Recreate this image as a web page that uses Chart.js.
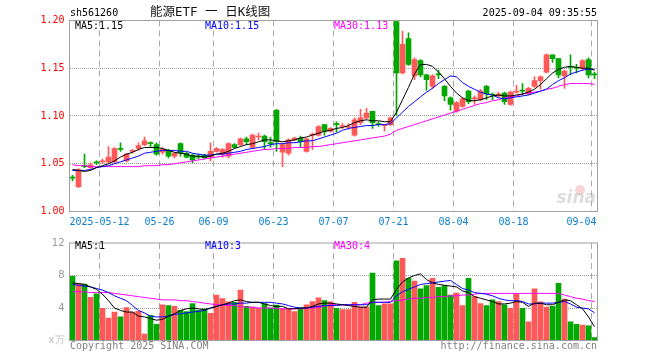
<!DOCTYPE html>
<html>
<head>
<meta charset="utf-8">
<script src="https://cdn.jsdelivr.net/npm/chart.js@4"></script>
<style>
  html, body { margin: 0; padding: 0; background: #fff; }
  #wrap { position: relative; width: 660px; height: 360px; }
  canvas { position: absolute; left: 0; }
  #k { top: 0; }
  #v { top: 232px; }
</style>
</head>
<body>
<div id="wrap">
  <canvas id="k" width="660" height="232"></canvas>
  <canvas id="v" width="660" height="128"></canvas>
</div>
<script>
// trading days shown (MM-DD, 2025)
const dates = ['04-30','05-06','05-07','05-08','05-09','05-12','05-13','05-14','05-15','05-16',
  '05-19','05-20','05-21','05-22','05-23','05-26','05-27','05-28','05-29','05-30',
  '06-03','06-04','06-05','06-06','06-09','06-10','06-11','06-12','06-13','06-16',
  '06-17','06-18','06-19','06-20','06-23','06-24','06-25','06-26','06-27','06-30',
  '07-01','07-02','07-03','07-04','07-07','07-08','07-09','07-10','07-11','07-14',
  '07-15','07-16','07-17','07-18','07-21','07-22','07-23','07-24','07-25','07-28',
  '07-29','07-30','07-31','08-01','08-04','08-05','08-06','08-07','08-08','08-11',
  '08-12','08-13','08-14','08-15','08-18','08-19','08-20','08-21','08-22','08-25',
  '08-26','08-27','08-28','08-29','09-01','09-02','09-03','09-04'];

const open = [1.036,1.026,1.048,1.046,1.052,1.052,1.052,1.052,1.066,1.053,
  1.063,1.066,1.070,1.072,1.070,1.062,1.064,1.058,1.071,1.061,
  1.059,1.058,1.059,1.057,1.063,1.060,1.058,1.070,1.070,1.076,
  1.067,1.078,1.079,1.072,1.106,1.062,1.061,1.075,1.077,1.063,
  1.080,1.080,1.091,1.084,1.092,1.089,1.088,1.080,1.093,1.098,
  1.105,1.092,1.090,1.091,1.199,1.145,1.181,1.142,1.158,1.143,
  1.131,1.144,1.131,1.119,1.105,1.110,1.126,1.118,1.117,1.131,
  1.123,1.121,1.124,1.112,1.125,1.127,1.123,1.131,1.137,1.146,
  1.164,1.160,1.142,1.152,1.151,1.150,1.159,1.144];
const high = [1.038,1.045,1.060,1.051,1.053,1.055,1.068,1.067,1.072,1.061,
  1.065,1.072,1.078,1.073,1.072,1.067,1.065,1.062,1.072,1.062,
  1.060,1.060,1.060,1.072,1.067,1.066,1.072,1.071,1.077,1.078,
  1.081,1.082,1.080,1.078,1.107,1.071,1.076,1.078,1.079,1.077,
  1.082,1.090,1.091,1.088,1.094,1.092,1.092,1.098,1.107,1.108,
  1.105,1.094,1.091,1.099,1.200,1.189,1.187,1.161,1.159,1.144,
  1.143,1.148,1.132,1.120,1.115,1.119,1.127,1.121,1.128,1.132,
  1.124,1.125,1.125,1.126,1.132,1.134,1.130,1.141,1.142,1.165,
  1.164,1.160,1.148,1.164,1.154,1.159,1.161,1.146];
const low = [1.032,1.025,1.046,1.045,1.049,1.050,1.051,1.051,1.063,1.052,
  1.061,1.064,1.069,1.068,1.059,1.060,1.056,1.056,1.058,1.056,
  1.051,1.055,1.055,1.053,1.062,1.057,1.056,1.066,1.069,1.070,
  1.066,1.075,1.065,1.067,1.063,1.047,1.059,1.074,1.068,1.062,
  1.065,1.079,1.080,1.083,1.083,1.087,1.086,1.079,1.091,1.097,
  1.087,1.089,1.084,1.090,1.100,1.144,1.153,1.138,1.141,1.127,
  1.129,1.139,1.116,1.106,1.104,1.109,1.113,1.112,1.116,1.117,
  1.117,1.120,1.112,1.111,1.124,1.122,1.122,1.130,1.128,1.145,
  1.156,1.140,1.129,1.143,1.145,1.148,1.140,1.139];
const close = [1.035,1.044,1.047,1.049,1.051,1.053,1.057,1.066,1.065,1.060,
  1.064,1.069,1.074,1.071,1.060,1.065,1.058,1.061,1.061,1.057,
  1.054,1.057,1.056,1.063,1.066,1.065,1.071,1.067,1.076,1.073,
  1.080,1.079,1.073,1.071,1.073,1.070,1.075,1.077,1.073,1.076,
  1.081,1.089,1.084,1.087,1.091,1.090,1.089,1.096,1.098,1.103,
  1.093,1.091,1.091,1.098,1.145,1.175,1.154,1.159,1.143,1.138,
  1.142,1.143,1.121,1.112,1.114,1.118,1.115,1.119,1.126,1.123,
  1.122,1.123,1.115,1.125,1.126,1.126,1.129,1.137,1.141,1.164,
  1.160,1.143,1.147,1.151,1.150,1.158,1.143,1.143];

// moving averages
const ma5 = [1.044,1.043,1.042,1.043,1.046,1.048,1.050,1.053,1.057,1.060,
  1.062,1.065,1.067,1.067,1.067,1.066,1.064,1.062,1.061,1.060,
  1.058,1.058,1.057,1.058,1.060,1.061,1.063,1.066,1.068,1.070,
  1.071,1.073,1.075,1.075,1.074,1.073,1.074,1.075,1.077,1.078,
  1.080,1.082,1.084,1.085,1.087,1.088,1.090,1.093,1.095,1.096,
  1.095,1.095,1.094,1.094,1.104,1.117,1.130,1.144,1.154,1.154,
  1.152,1.146,1.139,1.131,1.124,1.119,1.116,1.116,1.117,1.119,
  1.121,1.122,1.121,1.121,1.122,1.123,1.125,1.128,1.133,1.139,
  1.145,1.149,1.151,1.152,1.151,1.150,1.150,1.148];
const ma10 = [1.043,1.043,1.043,1.044,1.046,1.047,1.048,1.050,1.052,1.054,
  1.056,1.058,1.061,1.062,1.063,1.064,1.064,1.064,1.063,1.063,
  1.061,1.060,1.059,1.059,1.060,1.060,1.061,1.062,1.063,1.065,
  1.066,1.067,1.068,1.070,1.071,1.071,1.072,1.072,1.073,1.074,
  1.074,1.076,1.078,1.080,1.082,1.085,1.087,1.088,1.089,1.090,
  1.090,1.091,1.091,1.092,1.098,1.104,1.110,1.115,1.120,1.125,
  1.129,1.134,1.138,1.142,1.141,1.135,1.131,1.128,1.125,1.123,
  1.122,1.119,1.118,1.119,1.120,1.121,1.122,1.124,1.126,1.128,
  1.133,1.137,1.140,1.144,1.146,1.148,1.149,1.149];
const ma30 = [1.049,1.048,1.048,1.047,1.047,1.047,1.047,1.047,1.047,1.047,
  1.047,1.047,1.048,1.048,1.048,1.049,1.049,1.050,1.051,1.052,
  1.053,1.054,1.055,1.056,1.057,1.058,1.059,1.060,1.061,1.062,
  1.063,1.064,1.065,1.065,1.066,1.066,1.066,1.067,1.067,1.067,
  1.068,1.068,1.069,1.070,1.071,1.072,1.073,1.074,1.075,1.076,
  1.077,1.078,1.079,1.081,1.085,1.087,1.089,1.091,1.093,1.095,
  1.097,1.099,1.101,1.103,1.105,1.107,1.109,1.111,1.113,1.114,
  1.116,1.117,1.119,1.120,1.121,1.123,1.124,1.125,1.126,1.128,
  1.129,1.131,1.133,1.134,1.134,1.134,1.134,1.133];

// volume, in 10k
const vol = [7.9,7.0,6.95,5.3,5.75,3.95,2.75,3.5,2.9,4.05,
  3.5,3.6,0.8,3.1,2.0,4.4,4.3,4.2,3.7,3.55,
  4.55,3.7,3.9,3.35,5.6,5.15,4.75,4.7,6.2,4.2,
  4.1,4.0,4.55,4.0,4.35,3.9,3.9,3.55,4.0,4.4,
  4.8,5.25,4.9,4.75,3.95,3.8,3.8,4.7,4.1,4.1,
  8.3,4.3,4.5,4.5,9.8,10.1,7.65,7.3,6.35,6.75,
  7.65,6.55,6.75,5.6,5.85,4.3,7.65,5.4,4.55,4.3,
  5.0,4.8,4.4,3.95,5.7,3.95,2.3,6.35,4.75,4.1,
  4.2,7.05,5.1,2.3,2.0,1.9,1.8,0.35];
const vma5 = [7.1,7.0,6.9,6.6,6.3,5.7,4.9,4.0,3.7,3.5,
  3.5,3.0,2.9,2.7,2.5,2.6,3.0,3.3,3.7,3.9,
  4.0,3.9,3.8,4.0,4.2,4.4,4.6,4.9,5.0,4.8,
  4.7,4.7,4.5,4.3,4.2,4.2,3.9,3.9,4.0,4.0,
  4.2,4.5,4.6,4.6,4.5,4.4,4.3,4.2,4.1,4.1,
  5.0,5.1,5.1,5.1,6.3,7.2,7.7,8.0,8.2,7.5,
  7.1,6.9,6.8,6.7,6.6,6.1,5.9,5.4,5.2,5.0,
  4.8,4.5,4.5,4.6,4.8,4.7,4.2,4.6,4.6,4.4,
  4.4,4.7,5.0,4.9,4.4,3.9,2.9,1.7];
const vma10 = [6.9,6.8,6.7,6.6,6.4,6.2,5.9,5.5,5.2,4.9,
  4.3,3.7,3.4,3.0,2.9,2.9,3.0,3.2,3.3,3.4,
  3.5,3.6,3.7,4.0,4.2,4.4,4.5,4.5,4.6,4.6,
  4.7,4.7,4.7,4.7,4.6,4.5,4.3,4.1,4.0,4.0,
  4.1,4.2,4.3,4.3,4.3,4.4,4.4,4.4,4.4,4.4,
  4.7,4.7,4.7,4.7,5.5,6.0,6.3,6.6,6.9,7.0,
  7.1,7.2,7.3,7.4,6.9,6.4,6.2,5.9,5.8,5.7,
  5.5,5.2,5.0,4.9,4.9,4.8,4.5,4.5,4.6,4.6,
  4.6,4.7,4.8,4.5,4.1,4.0,3.9,3.4];
const vma30 = [6.0,6.0,6.0,5.9,5.9,5.9,5.9,5.8,5.7,5.6,
  5.5,5.4,5.3,5.2,5.1,5.0,5.0,5.0,4.9,4.9,
  4.8,4.7,4.6,4.5,4.4,4.4,4.3,4.3,4.2,4.1,
  4.1,4.0,4.0,4.0,3.9,3.9,3.9,3.9,3.9,4.0,
  4.0,4.1,4.2,4.4,4.4,4.4,4.4,4.4,4.4,4.6,
  4.7,4.7,4.7,4.8,4.9,5.0,5.1,5.2,5.2,5.3,
  5.3,5.4,5.4,5.5,5.5,5.6,5.6,5.7,5.8,5.8,
  5.8,5.8,5.8,5.8,5.8,5.8,5.8,5.8,5.8,5.8,
  5.8,5.8,5.6,5.4,5.2,5.1,4.9,4.8];

const tickDates = ['05-12','05-26','06-09','06-23','07-07','07-21','08-04','08-18','09-04'];
const tickText  = ['2025-05-12','05-26','06-09','06-23','07-07','07-21','08-04','08-18','09-04'];

const UP = '#ff5858', DOWN = '#00a800';
const MONO = '"DejaVu Sans Mono", monospace';
const candleColor = close.map((c, i) => c >= open[i] ? UP : DOWN);
const last = dates.length - 1;

// dashed day separators, one half-slot left of the bar centre
function vlines(chart) {
  const {ctx, chartArea: a, scales: {x}} = chart;
  ctx.save();
  ctx.strokeStyle = '#aaa';
  ctx.lineWidth = 1;
  ctx.setLineDash([6, 4]);
  tickDates.forEach(d => {
    const px = x.getPixelForValue(dates.indexOf(d)) - 3;
    ctx.beginPath();
    ctx.moveTo(px, a.top);
    ctx.lineTo(px, a.bottom);
    ctx.stroke();
  });
  ctx.restore();
}

function box(chart) {
  const {ctx, chartArea: a} = chart;
  ctx.save();
  ctx.strokeStyle = '#a0a0a0';
  ctx.lineWidth = 1;
  ctx.strokeRect(a.left, a.top, a.right - a.left, a.bottom - a.top);
  ctx.restore();
}

function txt(ctx, s, x, y, color, font, align) {
  ctx.fillStyle = color;
  ctx.font = font;
  ctx.textAlign = align || 'left';
  ctx.textBaseline = 'middle';
  ctx.fillText(s, x, y);
}

const kDecor = {
  id: 'kDecor',
  beforeDatasetsDraw(chart) {
    const ctx = chart.ctx;
    vlines(chart);
    // sina watermark
    ctx.save();
    ctx.fillStyle = 'rgba(235,120,120,0.3)';
    ctx.beginPath();
    ctx.arc(580, 190, 5, 0, Math.PI * 2);
    ctx.fill();
    txt(ctx, 'sina', 596, 199, 'rgba(180,180,180,0.45)', 'italic bold 17px "DejaVu Sans"', 'right');
    ctx.restore();
  },
  afterDraw(chart) {
    const {ctx, chartArea: a, scales: {x}} = chart;
    box(chart);
    ctx.save();
    tickDates.forEach((d, k) => {
      const px = x.getPixelForValue(dates.indexOf(d)) - 3;
      ctx.font = '10px ' + MONO;
      const w = ctx.measureText(tickText[k]).width;
      const cx = Math.min(px, a.right - 1 - w / 2);
      txt(ctx, tickText[k], cx, 222, '#0a7fd0', '10px ' + MONO, 'center');
    });
    txt(ctx, 'sh561260', 70, 13, '#000', '10px ' + MONO);
    txt(ctx, '能源ETF 一 日K线图', 150, 13, '#111', '12.5px "DejaVu Sans Mono", "Noto Sans CJK SC"');
    txt(ctx, '2025-09-04 09:35:55', 597, 13, '#000', '10px ' + MONO, 'right');
    txt(ctx, 'MA5:' + ma5[last].toFixed(2), 75, 26, '#000', '10px ' + MONO);
    txt(ctx, 'MA10:' + ma10[last].toFixed(2), 205, 26, '#0000ff', '10px ' + MONO);
    txt(ctx, 'MA30:' + ma30[last].toFixed(2), 334, 26, '#ff00ff', '10px ' + MONO);
    ctx.restore();
  }
};

const vDecor = {
  id: 'vDecor',
  beforeDatasetsDraw(chart) { vlines(chart); },
  afterDraw(chart) {
    const ctx = chart.ctx;
    box(chart);
    ctx.save();
    txt(ctx, 'MA5:' + Math.floor(vma5[last]), 75, 14, '#000', '10px ' + MONO);
    txt(ctx, 'MA10:' + Math.floor(vma10[last]), 205, 14, '#0000ff', '10px ' + MONO);
    txt(ctx, 'MA30:' + Math.floor(vma30[last]), 334, 14, '#ff00ff', '10px ' + MONO);
    txt(ctx, 'Copyright 2025 SINA.COM', 70, 114, '#808080', '10px ' + MONO);
    txt(ctx, 'http://finance.sina.com.cn', 597, 114, '#808080', '10px ' + MONO, 'right');
    ctx.restore();
  }
};

function maLine(data, color) {
  return {type: 'line', data, borderColor: color, borderWidth: 1, pointRadius: 0, tension: 0, fill: false, order: 0};
}

const common = {
  responsive: false,
  animation: false,
  devicePixelRatio: 1,
  events: [],
  plugins: {legend: {display: false}, tooltip: {enabled: false}}
};

new Chart(document.getElementById('k'), {
  type: 'bar',
  data: {
    labels: dates,
    datasets: [
      maLine(ma5, '#000000'),
      maLine(ma10, '#0000ff'),
      maLine(ma30, '#ff00ff'),
      {data: close.map((c, i) => [open[i], c]), backgroundColor: candleColor,
       barThickness: 5, minBarLength: 1, grouped: false, order: 1},
      {data: high.map((h, i) => [low[i], h]), backgroundColor: candleColor,
       barThickness: 1, grouped: false, order: 2}
    ]
  },
  options: Object.assign({}, common, {
    layout: {padding: {left: 0, right: 62.5, top: 20.5, bottom: 20.5}},
    scales: {
      x: {display: false, offset: true},
      y: {
        min: 1.0, max: 1.2,
        ticks: {stepSize: 0.05, color: '#ff0000', padding: 5,
                font: {family: MONO, size: 10}, callback: v => v.toFixed(2)},
        grid: {drawTicks: false, color: c => (c.index === 0 || c.index === 4) ? 'rgba(0,0,0,0)' : '#999'},
        border: {display: false, dash: [1, 1]},
        afterFit: s => { s.width = 69.5; }
      }
    }
  }),
  plugins: [kDecor]
});

new Chart(document.getElementById('v'), {
  type: 'bar',
  data: {
    labels: dates,
    datasets: [
      maLine(vma5, '#000000'),
      maLine(vma10, '#0000ff'),
      maLine(vma30, '#ff00ff'),
      {data: vol, backgroundColor: candleColor, barThickness: 5, order: 1}
    ]
  },
  options: Object.assign({}, common, {
    layout: {padding: {left: 0, right: 62.5, top: 8.5, bottom: 19.5}},
    scales: {
      x: {display: false, offset: true},
      y: {
        min: 0, max: 12,
        ticks: {stepSize: 4, padding: 5, font: {family: '"DejaVu Sans"', size: 10},
                color: c => c.tick.value === 0 ? '#c0c0c0' : '#999',
                callback: v => v === 0 ? 'x万' : v},
        grid: {drawTicks: false, color: c => (c.index === 0 || c.index === 3) ? 'rgba(0,0,0,0)' : '#999'},
        border: {display: false, dash: [1, 1]},
        afterFit: s => { s.width = 69.5; }
      }
    }
  }),
  plugins: [vDecor]
});
</script>
</body>
</html>
